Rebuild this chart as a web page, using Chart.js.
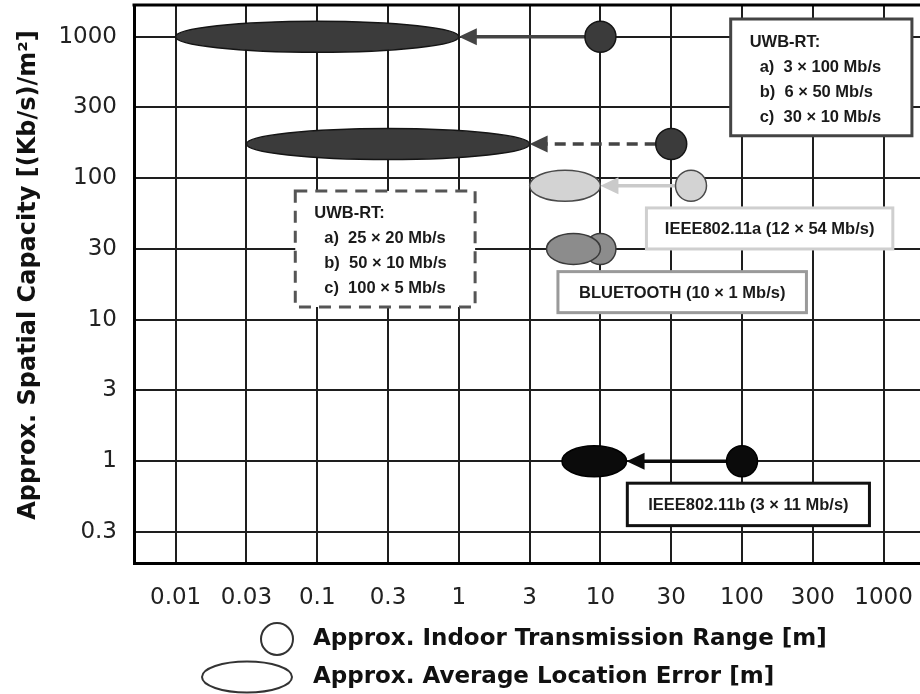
<!DOCTYPE html>
<html>
<head>
<meta charset="utf-8">
<script src="https://cdn.jsdelivr.net/npm/chart.js@4.4.1/dist/chart.umd.min.js"></script>
<style>
  html, body { margin: 0; padding: 0; background: #fff; overflow: hidden; }
  canvas { display: block; }
</style>
</head>
<body>
<canvas id="c" width="920" height="694"></canvas>
<script>
// Tick values of the two half-decade axes (gridlines evenly spaced)
const xTickValues = [0.01, 0.03, 0.1, 0.3, 1, 3, 10, 30, 100, 300, 1000];
const yTickValues = [0.3, 1, 3, 10, 30, 100, 300, 1000];
const xTickLabels = ['0.01', '0.03', '0.1', '0.3', '1', '3', '10', '30', '100', '300', '1000'];
const yTickLabels = ['0.3', '1', '3', '10', '30', '100', '300', '1000'];

// Systems compared
const systems = ['UWB-RT (a)', 'UWB-RT (b)', 'IEEE802.11a', 'BLUETOOTH', 'IEEE802.11b'];
// Approx. indoor transmission range [m]
const rangeM = [10, 30, 42, 10, 100];
// Approx. spatial capacity [(Kb/s)/m²]
const capacity = [1000, 170, 88, 30, 1];
// Approx. average location error span [m]
const errorMin = [0.01, 0.03, 3, 4, 5.2];
const errorMax = [1, 3, 10, 10, 15];

// Note boxes
const noteUwbA = ['UWB-RT:', 'a)  3 × 100 Mb/s', 'b)  6 × 50 Mb/s', 'c)  30 × 10 Mb/s'];
const noteUwbB = ['UWB-RT:', 'a)  25 × 20 Mb/s', 'b)  50 × 10 Mb/s', 'c)  100 × 5 Mb/s'];
const note11a = 'IEEE802.11a (12 × 54 Mb/s)';
const noteBt = 'BLUETOOTH (10 × 1 Mb/s)';
const note11b = 'IEEE802.11b (3 × 11 Mb/s)';

const legendRange = 'Approx. Indoor Transmission Range [m]';
const legendError = 'Approx. Average Location Error [m]';
const yTitle = 'Approx. Spatial Capacity [(Kb/s)/m²]';

// ---- styling -------------------------------------------------------------
const markFill = ['#3b3b3b', '#3b3b3b', '#d3d3d3', '#8c8c8c', '#0b0b0b'];
const markEdge = ['#151515', '#151515', '#4a4a4a', '#3a3a3a', '#000000'];
const arrowStyle = [
  { color: '#444444', dash: [] },
  { color: '#444444', dash: [11, 7] },
  { color: '#cacaca', dash: [] },
  null,
  { color: '#0b0b0b', dash: [] }
];
const CIRCLE_R = 15.5;
const ELLIPSE_RY = 15.5;
const NOTE_FONT = 'bold 16.5px "Liberation Sans", Arial, sans-serif';
const TITLE_FONT_FAMILY = '"DejaVu Sans", sans-serif';

// Boxes placed in axis units (one grid step = 1)
const noteBoxes = [
  { x0: 7.84, x1: 10.40, y0: 7.25, y1: 5.60, border: '#444', dash: [], lines: noteUwbA, align: 'left' },
  { x0: 1.69, x1: 4.23, y0: 4.82, y1: 3.18, border: '#555', dash: [12, 8], lines: noteUwbB, align: 'left' },
  { x0: 6.65, x1: 10.13, y0: 4.58, y1: 4.00, border: '#cfcfcf', dash: [], lines: [note11a], align: 'center' },
  { x0: 5.40, x1: 8.91, y0: 3.68, y1: 3.10, border: '#9a9a9a', dash: [], lines: [noteBt], align: 'center' },
  { x0: 6.38, x1: 9.80, y0: 0.69, y1: 0.09, border: '#111', dash: [], lines: [note11b], align: 'center' }
];

// Map a value onto the half-decade axis: log interpolation between adjacent ticks
function toAxis(v, ticks) {
  let i = 0;
  while (i < ticks.length - 2 && v > ticks[i + 1]) i++;
  return i + Math.log(v / ticks[i]) / Math.log(ticks[i + 1] / ticks[i]);
}

const points = rangeM.map((r, i) => ({ x: toAxis(r, xTickValues), y: toAxis(capacity[i], yTickValues) }));

function drawArrow(ctx, xFrom, xTip, yy, style) {
  const headLen = 18, headHalf = 8.5;
  ctx.save();
  ctx.strokeStyle = style.color;
  ctx.fillStyle = style.color;
  ctx.lineWidth = 3.5;
  ctx.setLineDash(style.dash);
  ctx.beginPath();
  ctx.moveTo(xFrom, yy);
  ctx.lineTo(xTip + headLen - 1, yy);
  ctx.stroke();
  ctx.setLineDash([]);
  ctx.beginPath();
  ctx.moveTo(xTip, yy);
  ctx.lineTo(xTip + headLen, yy - headHalf);
  ctx.lineTo(xTip + headLen, yy + headHalf);
  ctx.closePath();
  ctx.fill();
  ctx.restore();
}

const overlay = {
  id: 'overlay',
  beforeDatasetsDraw(chart) {
    const { ctx, scales: { x, y } } = chart;
    // arrows from range circle to the error span
    systems.forEach((s, i) => {
      const st = arrowStyle[i];
      if (!st) return;
      const yy = y.getPixelForValue(points[i].y);
      const from = x.getPixelForValue(points[i].x) - CIRCLE_R;
      const tip = x.getPixelForValue(toAxis(errorMax[i], xTickValues));
      drawArrow(ctx, from, tip, yy, st);
    });
    // note boxes
    noteBoxes.forEach(b => {
      const l = x.getPixelForValue(b.x0), r = x.getPixelForValue(b.x1);
      const t = y.getPixelForValue(b.y0), btm = y.getPixelForValue(b.y1);
      ctx.save();
      ctx.fillStyle = '#fff';
      ctx.fillRect(l, t, r - l, btm - t);
      ctx.strokeStyle = b.border;
      ctx.lineWidth = 3;
      ctx.setLineDash(b.dash);
      ctx.strokeRect(l, t, r - l, btm - t);
      ctx.setLineDash([]);
      ctx.fillStyle = '#1a1a1a';
      ctx.font = NOTE_FONT;
      ctx.textBaseline = 'middle';
      if (b.align === 'center') {
        ctx.textAlign = 'center';
        ctx.fillText(b.lines[0], (l + r) / 2, (t + btm) / 2 + 1);
      } else {
        ctx.textAlign = 'left';
        b.lines.forEach((line, k) => {
          ctx.fillText(line, l + (k === 0 ? 19 : 29), t + 23 + k * 25);
        });
      }
      ctx.restore();
    });
  },
  afterDatasetsDraw(chart) {
    const { ctx, scales: { x, y } } = chart;
    // location error ellipses
    systems.forEach((s, i) => {
      const a = x.getPixelForValue(toAxis(errorMin[i], xTickValues));
      const b = x.getPixelForValue(toAxis(errorMax[i], xTickValues));
      const yy = y.getPixelForValue(points[i].y);
      ctx.save();
      ctx.beginPath();
      ctx.ellipse((a + b) / 2, yy, (b - a) / 2, ELLIPSE_RY, 0, 0, Math.PI * 2);
      ctx.fillStyle = markFill[i];
      ctx.fill();
      ctx.lineWidth = 1.5;
      ctx.strokeStyle = markEdge[i];
      ctx.stroke();
      ctx.restore();
    });
  },
  afterDraw(chart) {
    const { ctx, chartArea } = chart;
    ctx.save();
    // top frame edge
    ctx.strokeStyle = '#000';
    ctx.lineWidth = 3;
    ctx.beginPath();
    ctx.moveTo(chartArea.left - 1.5, chartArea.top);
    ctx.lineTo(chartArea.right, chartArea.top);
    ctx.stroke();
    // vertical axis title
    ctx.save();
    ctx.translate(29, chartArea.top + 270);
    ctx.rotate(-Math.PI / 2);
    ctx.fillStyle = '#111';
    ctx.font = 'bold 24px ' + TITLE_FONT_FAMILY;
    ctx.textAlign = 'center';
    ctx.textBaseline = 'middle';
    ctx.fillText(yTitle, 0, 0);
    ctx.restore();
    // legend
    ctx.strokeStyle = '#333';
    ctx.lineWidth = 2;
    ctx.beginPath();
    ctx.arc(277, 639, 16, 0, Math.PI * 2);
    ctx.stroke();
    ctx.beginPath();
    ctx.ellipse(247, 677, 45, 15.5, 0, 0, Math.PI * 2);
    ctx.stroke();
    ctx.fillStyle = '#111';
    ctx.font = 'bold 23px ' + TITLE_FONT_FAMILY;
    ctx.textAlign = 'left';
    ctx.textBaseline = 'middle';
    ctx.fillText(legendRange, 313, 639);
    ctx.fillText(legendError, 313, 677);
    ctx.restore();
  }
};

const gridColor = '#1e1e1e';

new Chart(document.getElementById('c'), {
  type: 'scatter',
  data: {
    datasets: [{
      label: 'Approx. Indoor Transmission Range [m]',
      data: points,
      pointRadius: CIRCLE_R,
      pointHoverRadius: CIRCLE_R,
      pointBackgroundColor: markFill,
      pointBorderColor: markEdge,
      pointBorderWidth: 1.5
    }]
  },
  options: {
    responsive: false,
    animation: false,
    events: [],
    layout: { autoPadding: false, padding: { top: 5, left: 0, right: 0, bottom: 0 } },
    plugins: { legend: { display: false }, tooltip: { enabled: false } },
    scales: {
      x: {
        type: 'linear',
        min: -0.588,
        max: 10.514,
        afterFit: s => { s.height = 131; s.paddingLeft = 0; s.paddingRight = 0; },
        ticks: {
          stepSize: 1,
          includeBounds: false,
          autoSkip: false,
          maxRotation: 0,
          padding: 21,
          color: '#222',
          font: { family: TITLE_FONT_FAMILY, size: 23 },
          callback: v => (Number.isInteger(v) && xTickLabels[v] !== undefined ? xTickLabels[v] : '')
        },
        grid: { color: gridColor, lineWidth: 2, drawTicks: false },
        border: { display: true, color: '#000', width: 3 }
      },
      y: {
        type: 'linear',
        min: -0.438,
        max: 7.448,
        afterFit: s => { s.width = 134; s.paddingTop = 0; s.paddingBottom = 0; },
        ticks: {
          stepSize: 1,
          includeBounds: false,
          autoSkip: false,
          padding: 17,
          color: '#222',
          font: { family: TITLE_FONT_FAMILY, size: 23 },
          callback: v => (Number.isInteger(v) && yTickLabels[v] !== undefined ? yTickLabels[v] : '')
        },
        grid: { color: gridColor, lineWidth: 2, drawTicks: false },
        border: { display: true, color: '#000', width: 3 }
      }
    }
  },
  plugins: [overlay]
});
</script>
</body>
</html>
